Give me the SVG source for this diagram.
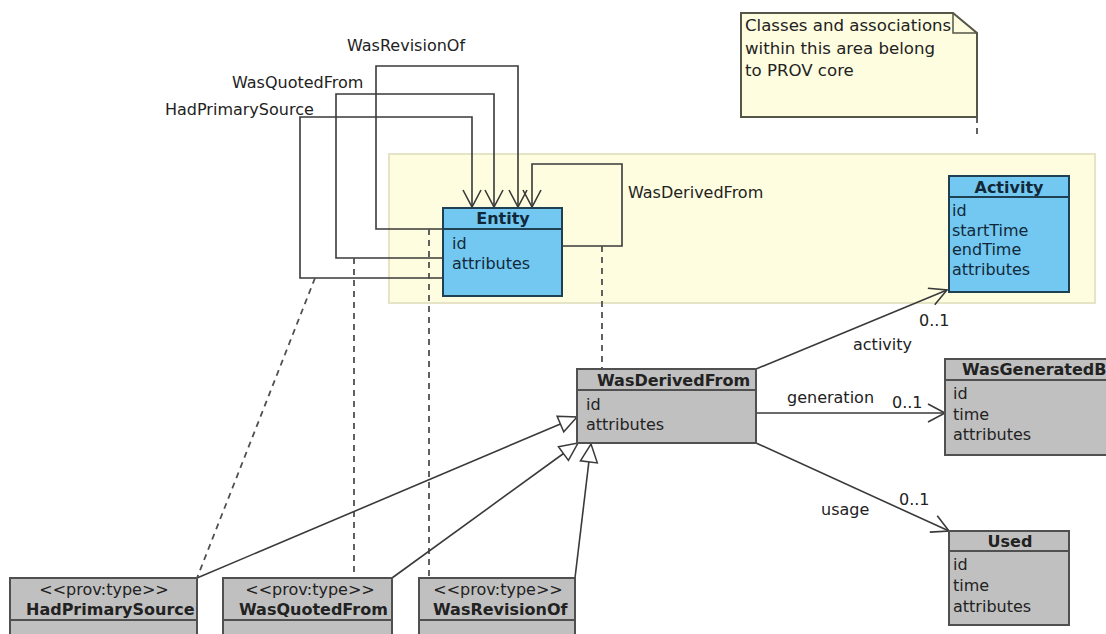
<svg xmlns="http://www.w3.org/2000/svg" width="1106" height="634" viewBox="0 0 1106 634">
  <style>
    text { font-family: "DejaVu Sans", "Liberation Sans", sans-serif; font-size: 16px; fill: #222; }
    .b { font-weight: bold; }
    .mid { text-anchor: middle; }
    .note { font-size: 16.6px; }
    .blue { fill: #72c8f0; stroke: #1f3f52; stroke-width: 2; }
    .gray { fill: #c0c0c0; stroke: #505050; stroke-width: 2; }
    .sepb { stroke: #1f3f52; stroke-width: 2; }
    .sepg { stroke: #505050; stroke-width: 2; }
    .conn { fill: none; stroke: #3a3a3a; stroke-width: 1.6; }
    .dash { fill: none; stroke: #505050; stroke-width: 1.8; stroke-dasharray: 6 5; }
    .navy { fill: #12283a; }
  </style>
  <defs>
    <marker id="open" markerUnits="userSpaceOnUse" orient="auto" refX="0" refY="0" markerWidth="24" markerHeight="24" viewBox="-20 -12 24 24" overflow="visible">
      <path d="M-17,-9 L0,0 L-17,9" fill="none" stroke="#3a3a3a" stroke-width="1.6"/>
    </marker>
    <marker id="gen" markerUnits="userSpaceOnUse" orient="auto" refX="0" refY="0" markerWidth="24" markerHeight="24" viewBox="-20 -12 24 24" overflow="visible">
      <path d="M-18,-8.5 L0,0 L-18,8.5 Z" fill="#fff" stroke="#3a3a3a" stroke-width="1.5"/>
    </marker>
  </defs>

  <!-- core area background -->
  <rect id="core-area" x="389" y="154" width="706" height="149" fill="#fefde0" stroke="#e6e4c6" stroke-width="2"/>

  <!-- note -->
  <g id="note">
    <path d="M741,13 H953 L977,33 V117 H741 Z" fill="#fefde0" stroke="#555548" stroke-width="2"/>
    <path d="M953,13 V33 H977" fill="none" stroke="#555548" stroke-width="1.5"/>
    <text class="note" x="745" y="31">Classes and associations</text>
    <text class="note" x="745" y="54">within this area belong</text>
    <text class="note" x="745" y="76">to PROV core</text>
  </g>

  <!-- connectors -->
  <g id="connectors">
    <path class="conn" d="M443,278 H300 V117 H472 V207" marker-end="url(#open)"/>
    <path class="conn" d="M443,258 H336 V94 H494 V207" marker-end="url(#open)"/>
    <path class="conn" d="M443,229 H376 V66 H518 V207" marker-end="url(#open)"/>
    <path class="conn" d="M562,246 H622 V164 H532 V207" marker-end="url(#open)"/>

    <path class="dash" d="M977,117 V136"/>
    <path class="dash" d="M315,278 L197,578"/>
    <path class="dash" d="M354,258 V578"/>
    <path class="dash" d="M429,229 V578"/>
    <path class="dash" d="M602,246 V369"/>

    <path class="conn" d="M197,578 L577,417" marker-end="url(#gen)"/>
    <path class="conn" d="M392,578 L578,443" marker-end="url(#gen)"/>
    <path class="conn" d="M575,578 L591,444" marker-end="url(#gen)"/>

    <path class="conn" d="M756,369 L947,290" marker-end="url(#open)"/>
    <path class="conn" d="M756,413 H945" marker-end="url(#open)"/>
    <path class="conn" d="M756,443 L949,531" marker-end="url(#open)"/>

    <text x="347" y="51">WasRevisionOf</text>
    <text x="232" y="88">WasQuotedFrom</text>
    <text x="165" y="115">HadPrimarySource</text>
    <text x="628" y="198">WasDerivedFrom</text>

    <text x="919" y="326">0..1</text>
    <text x="853" y="350">activity</text>
    <text x="787" y="403">generation</text>
    <text x="892" y="408">0..1</text>
    <text x="899" y="505">0..1</text>
    <text x="821" y="515">usage</text>
  </g>

  <!-- Entity -->
  <g id="entity">
    <rect class="blue" x="443" y="208" width="119" height="88"/>
    <line class="sepb" x1="443" y1="229" x2="562" y2="229"/>
    <text class="b mid navy" x="503" y="224">Entity</text>
    <text class="navy" x="452" y="249">id</text>
    <text class="navy" x="452" y="269">attributes</text>
  </g>

  <!-- Activity -->
  <g id="activity">
    <rect class="blue" x="949" y="176" width="120" height="116"/>
    <line class="sepb" x1="949" y1="197" x2="1069" y2="197"/>
    <text class="b mid navy" x="1009" y="193">Activity</text>
    <text class="navy" x="952" y="216">id</text>
    <text class="navy" x="952" y="235.5">startTime</text>
    <text class="navy" x="952" y="255">endTime</text>
    <text class="navy" x="952" y="274.5">attributes</text>
  </g>

  <!-- WasDerivedFrom -->
  <g id="was-derived-from">
    <rect class="gray" x="577" y="369" width="179" height="74"/>
    <line class="sepg" x1="577" y1="390" x2="756" y2="390"/>
    <text class="b" x="597" y="386">WasDerivedFrom</text>
    <text x="586" y="410">id</text>
    <text x="586" y="430">attributes</text>
  </g>

  <!-- WasGeneratedBy (runs past the right edge) -->
  <g id="was-generated-by">
    <rect class="gray" x="945" y="359" width="180" height="96"/>
    <line class="sepg" x1="945" y1="380" x2="1125" y2="380"/>
    <text class="b" x="962" y="375">WasGeneratedBy</text>
    <text x="953" y="399">id</text>
    <text x="953" y="420">time</text>
    <text x="953" y="440">attributes</text>
  </g>

  <!-- Used -->
  <g id="used">
    <rect class="gray" x="949" y="531" width="120" height="94"/>
    <line class="sepg" x1="949" y1="551" x2="1069" y2="551"/>
    <text class="b mid" x="1010" y="547">Used</text>
    <text x="953" y="570">id</text>
    <text x="953" y="591">time</text>
    <text x="953" y="612">attributes</text>
  </g>

  <!-- prov:type subclasses -->
  <g id="had-primary-source">
    <rect class="gray" x="10" y="578" width="187" height="80"/>
    <line class="sepg" x1="10" y1="620" x2="197" y2="620"/>
    <text class="mid" x="104" y="595" fill="#333">&lt;&lt;prov:type&gt;&gt;</text>
    <text class="b" x="26" y="615">HadPrimarySource</text>
  </g>
  <g id="was-quoted-from">
    <rect class="gray" x="223" y="578" width="169" height="80"/>
    <line class="sepg" x1="223" y1="620" x2="392" y2="620"/>
    <text class="mid" x="310" y="595">&lt;&lt;prov:type&gt;&gt;</text>
    <text class="b" x="239" y="615">WasQuotedFrom</text>
  </g>
  <g id="was-revision-of">
    <rect class="gray" x="419" y="578" width="156" height="80"/>
    <line class="sepg" x1="419" y1="620" x2="575" y2="620"/>
    <text class="mid" x="498" y="595">&lt;&lt;prov:type&gt;&gt;</text>
    <text class="b" x="433" y="615">WasRevisionOf</text>
  </g>
</svg>
